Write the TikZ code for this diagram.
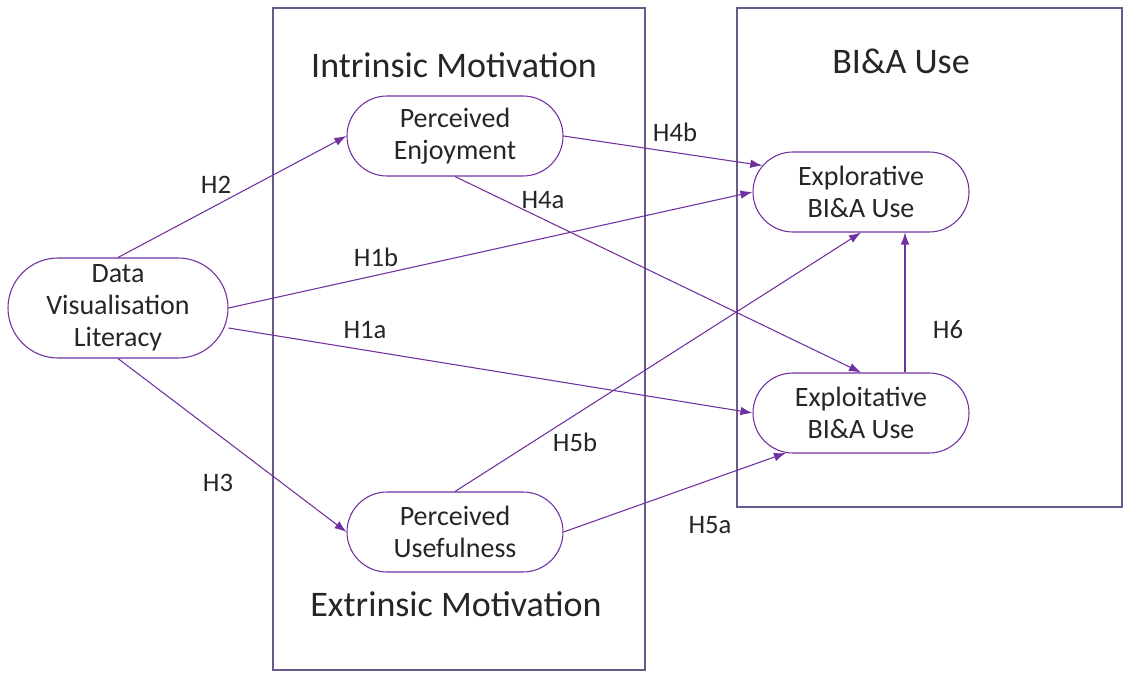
\documentclass[tikz,border=0pt]{standalone}
\usepackage{fontspec}
\setmainfont{Carlito}
\usetikzlibrary{arrows.meta,shapes.misc}
\definecolor{hypline}{HTML}{7030A0}
\definecolor{framecol}{HTML}{6A5A8C}
\definecolor{txtcol}{HTML}{262626}
\begin{document}
\begin{tikzpicture}[x=0.75pt,y=-0.75pt,
  construct/.style={rounded rectangle,draw=hypline,line width=0.8pt,fill=white,
    minimum width=162pt,minimum height=60pt,inner sep=0pt,align=center,
    font=\fontsize{21}{24}\selectfont,text=txtcol},
  group/.style={draw=framecol,line width=0.9pt},
  grouptitle/.style={font=\fontsize{27}{32}\selectfont,text=txtcol},
  hyp/.style={-{Latex[length=9pt,width=6.5pt]},draw=hypline,line width=0.8pt},
  hyplabel/.style={font=\fontsize{20}{24}\selectfont,text=txtcol}]
  \useasboundingbox (0,0) rectangle (1130,673);

  % the two groups
  \draw[group] (273,8) rectangle (645,670);
  \draw[group] (737,8) rectangle (1122,507);
  \node[grouptitle] (intr) at (454,65) {Intrinsic Motivation};
  \node[grouptitle] (extr) at (456,604) {Extrinsic Motivation};
  \node[grouptitle] (bia)  at (901,61) {BI\&A Use};

  % constructs
  \node[construct,minimum width=165pt,minimum height=75pt] (dvl) at (118,308) {Data\\Visualisation\\Literacy};
  \node[construct] (pe)      at (455,136) {Perceived\\Enjoyment};
  \node[construct] (pu)      at (455,532) {Perceived\\Usefulness};
  \node[construct] (explor)  at (861,192) {Explorative\\BI\&A Use};
  \node[construct] (exploit) at (861,413) {Exploitative\\BI\&A Use};

  % hypotheses
  \draw[hyp] (dvl.north) -- (pe.west);
  \draw[hyp] (dvl.south) -- (pu.west);
  \draw[hyp] (dvl.east) -- (explor.west);
  \draw[hyp] ([yshift=-15pt]dvl.east) -- (exploit.west);
  \draw[hyp] (pe.east) -- (explor.165);
  \draw[hyp] (pe.south) -- (exploit.north);
  \draw[hyp] (pu.north) -- (explor.south);
  \draw[hyp] (pu.east) -- (exploit.208);
  \draw[hyp] ([xshift=33pt]exploit.north) -- ([xshift=33pt]explor.south);

  \node[hyplabel] (h2)  at (216,185) {H2};
  \node[hyplabel] (h3)  at (218,483) {H3};
  \node[hyplabel] (h1b) at (376,257) {H1b};
  \node[hyplabel] (h1a) at (365,330) {H1a};
  \node[hyplabel] (h4b) at (675,132) {H4b};
  \node[hyplabel] (h4a) at (543,200) {H4a};
  \node[hyplabel] (h5b) at (575,442) {H5b};
  \node[hyplabel] (h5a) at (710,525) {H5a};
  \node[hyplabel] (h6)  at (948,330) {H6};
\end{tikzpicture}
\end{document}
